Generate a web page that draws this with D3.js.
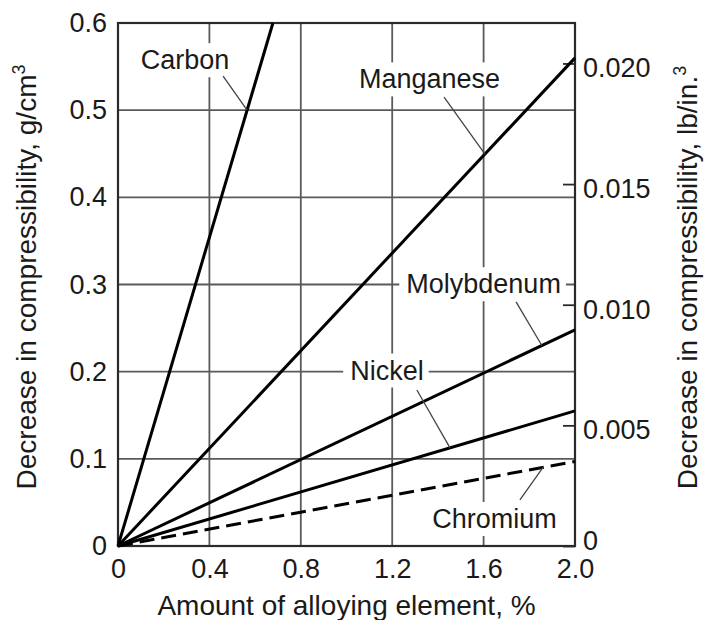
<!DOCTYPE html>
<html>
<head>
<meta charset="utf-8">
<script src="https://cdn.jsdelivr.net/npm/d3@7"></script>
<style>
  html, body { margin: 0; padding: 0; background: #fff; }
  svg { display: block; font-family: "Liberation Sans", Arial, Helvetica, sans-serif; }
</style>
</head>
<body>
<svg id="chart" width="705" height="620"></svg>
<script>
// ---- data ----
const xTicks = [0, 0.4, 0.8, 1.2, 1.6, 2.0];
const xTickLabels = ["0", "0.4", "0.8", "1.2", "1.6", "2.0"];
const yTicks = [0, 0.1, 0.2, 0.3, 0.4, 0.5, 0.6];
const yTickLabels = ["0", "0.1", "0.2", "0.3", "0.4", "0.5", "0.6"];
const yRightTicks = [0, 0.005, 0.010, 0.015, 0.020];
const yRightTickLabels = ["0", "0.005", "0.010", "0.015", "0.020"];
const gcm3ToLbIn3 = 0.036127;

const seriesNames = ["Carbon", "Manganese", "Molybdenum", "Nickel", "Chromium"];
const seriesX = [[0, 0.678], [0, 2.0], [0, 2.0], [0, 2.0], [0, 2.0]];
const seriesY = [[0, 0.6], [0, 0.56], [0, 0.248], [0, 0.155], [0, 0.097]];
const seriesDashed = [false, false, false, false, true];

// label anchor (x %, y g/cm3 baseline) and leader line from/to (data units)
const labelX = [0.293, 1.363, 1.60, 1.177, 1.648];
const labelY = [0.547, 0.525, 0.290, 0.191, 0.0207];
const leaderFromX = [0.46, 1.427, 1.742, 1.308, 1.759];
const leaderFromY = [0.539, 0.515, 0.280, 0.179, 0.053];
const leaderToX = [0.565, 1.606, 1.855, 1.453, 1.86];

// ---- layout ----
const svg = d3.select("#chart");
const L = 118, R = 575, T = 23, B = 546;
const x = d3.scaleLinear().domain([0, 2.0]).range([L, R]);
const y = d3.scaleLinear().domain([0, 0.6]).range([B, T]);
const yR = d3.scaleLinear().domain([0, 0.6 * gcm3ToLbIn3]).range([B, T]);
const textColor = "#1a1a1a";

// gridlines
const grid = svg.append("g");
grid.selectAll("line.v").data(xTicks.slice(1, -1)).join("line")
  .attr("x1", d => x(d)).attr("x2", d => x(d)).attr("y1", T).attr("y2", B)
  .attr("stroke", "#5a5a5a").attr("stroke-width", 1.8);
grid.selectAll("line.h").data(yTicks.slice(1, -1)).join("line")
  .attr("x1", L).attr("x2", R).attr("y1", d => y(d)).attr("y2", d => y(d))
  .attr("stroke", "#5a5a5a").attr("stroke-width", 1.8);

// gaps behind labels
const gapLayer = svg.append("g");

// frame
svg.append("rect").attr("x", L).attr("y", T).attr("width", R - L).attr("height", B - T)
  .attr("fill", "none").attr("stroke", "#2a2a2a").attr("stroke-width", 2.2);

// axes
const fs = 27;
const axL = svg.append("g").attr("transform", `translate(${L},0)`)
  .call(d3.axisLeft(y).tickValues(yTicks).tickFormat((d, i) => yTickLabels[i]).tickSize(0).tickPadding(11));
const axB = svg.append("g").attr("transform", `translate(0,${B})`)
  .call(d3.axisBottom(x).tickValues(xTicks).tickFormat((d, i) => xTickLabels[i]).tickSize(0).tickPadding(13));
const axR = svg.append("g").attr("transform", `translate(${R},0)`)
  .call(d3.axisRight(yR).tickValues(yRightTicks).tickFormat((d, i) => yRightTickLabels[i]).tickSize(-12).tickPadding(8));
[axL, axB, axR].forEach(a => {
  a.select(".domain").remove();
  a.selectAll("text").attr("font-size", fs).attr("fill", textColor)
    .attr("font-family", '"Liberation Sans", Arial, Helvetica, sans-serif');
});
axR.selectAll(".tick line").attr("stroke", "#2a2a2a").attr("stroke-width", 1.8);
axR.selectAll("text").attr("dy", (d) => d === 0 ? "0.12em" : "0.5em");

// series lines
const line = d3.line().x(d => x(d[0])).y(d => y(d[1]));
const seriesG = svg.append("g");
seriesNames.forEach((name, i) => {
  const pts = seriesX[i].map((v, j) => [v, seriesY[i][j]]);
  seriesG.append("path").datum(pts).attr("d", line)
    .attr("fill", "none").attr("stroke", "#000").attr("stroke-width", 3)
    .attr("stroke-dasharray", seriesDashed[i] ? "15,7" : null);
});

// labels, leaders
const slopeOf = i => (seriesY[i][1] - seriesY[i][0]) / (seriesX[i][1] - seriesX[i][0]);
const annG = svg.append("g");
seriesNames.forEach((name, i) => {
  annG.append("line")
    .attr("x1", x(leaderFromX[i])).attr("y1", y(leaderFromY[i]))
    .attr("x2", x(leaderToX[i])).attr("y2", y(leaderToX[i] * slopeOf(i)))
    .attr("stroke", "#444").attr("stroke-width", 1.3);
  const t = annG.append("text").attr("x", x(labelX[i])).attr("y", y(labelY[i]))
    .attr("text-anchor", "middle").attr("font-size", fs).attr("fill", textColor).text(name);
  const bb = t.node().getBBox();
  gapLayer.append("rect")
    .attr("x", bb.x - 7).attr("y", bb.y - 2).attr("width", bb.width + 12).attr("height", bb.height + 4)
    .attr("fill", "#fff");
});

// axis titles
svg.append("text").attr("x", (L + R) / 2).attr("y", 615).attr("text-anchor", "middle")
  .attr("font-size", 28).attr("fill", textColor).text("Amount of alloying element, %");

const yt = svg.append("text").attr("transform", `translate(36,${(62 + 492) / 2}) rotate(-90)`)
  .attr("text-anchor", "middle").attr("font-size", 28).attr("fill", textColor);
yt.append("tspan").text("Decrease in compressibility, g/cm");
yt.append("tspan").attr("font-size", 18).attr("dy", -11).text("3");

const yrt = svg.append("text").attr("transform", `translate(697,${(63 + 492) / 2}) rotate(-90)`)
  .attr("text-anchor", "middle").attr("font-size", 28).attr("fill", textColor);
yrt.append("tspan").text("Decrease in compressibility, lb/in.");
yrt.append("tspan").attr("font-size", 18).attr("dy", -11).text("3");
</script>
</body>
</html>
